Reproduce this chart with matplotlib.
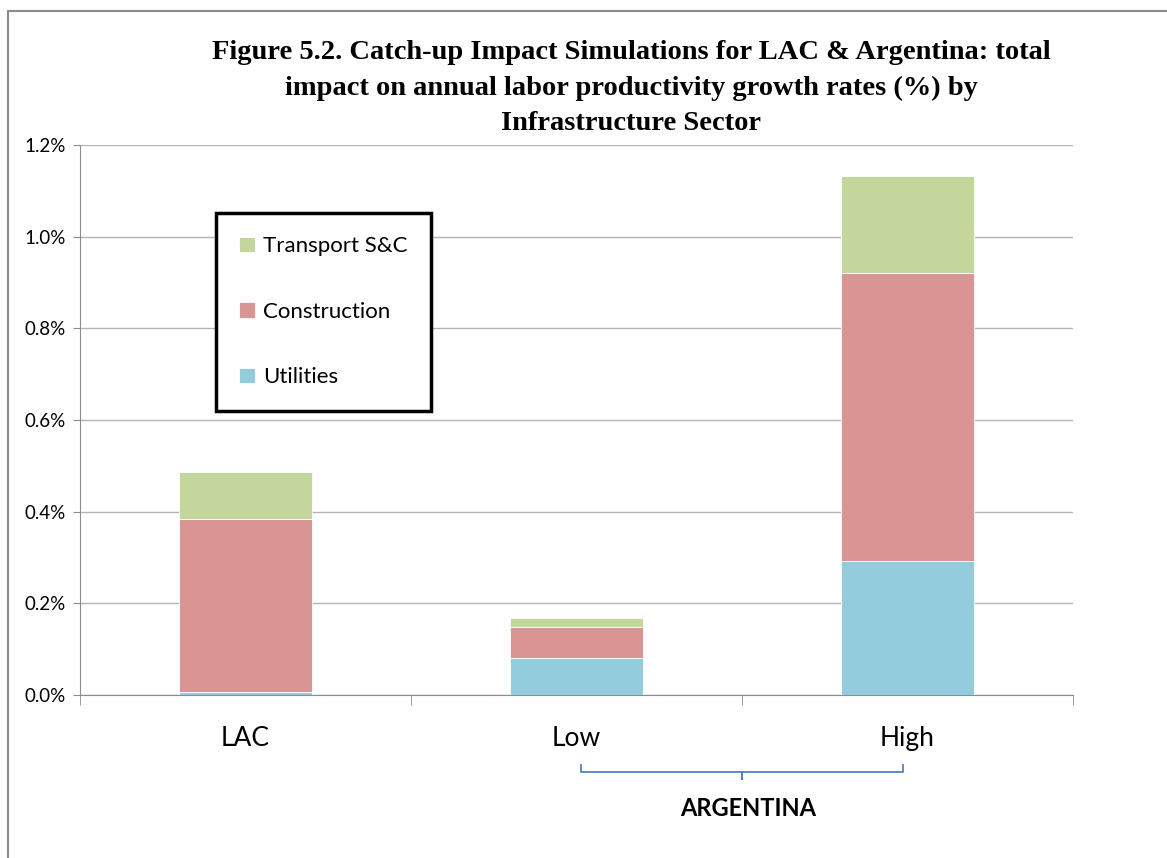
import matplotlib.pyplot as plt
from matplotlib.patches import Rectangle
from matplotlib.ticker import PercentFormatter, FixedLocator
import matplotlib.transforms as mtransforms

categories = ['LAC', 'Low', 'High']
utilities = [0.007, 0.080, 0.292]
construction = [0.377, 0.068, 0.628]
transport = [0.103, 0.020, 0.212]

c_util = '#93cddd'
c_cons = '#d99594'
c_trans = '#c3d69b'

plt.rcParams['font.family'] = ['Lato', 'DejaVu Sans']

fig = plt.figure(figsize=(11.67, 8.58), dpi=100)
ax = fig.add_axes([80 / 1167, 1 - 695 / 858, 993 / 1167, 550 / 858])

x = range(len(categories))
w = 0.4
b1 = ax.bar(x, utilities, w, color=c_util, label='Utilities', zorder=3,
            edgecolor='white', linewidth=0.6)
bottom2 = [u for u in utilities]
b2 = ax.bar(x, construction, w, bottom=bottom2, color=c_cons, label='Construction',
            zorder=3, edgecolor='white', linewidth=0.6)
bottom3 = [u + c for u, c in zip(utilities, construction)]
b3 = ax.bar(x, transport, w, bottom=bottom3, color=c_trans, label='Transport S&C',
            zorder=3, edgecolor='white', linewidth=0.6)

ax.set_xlim(-0.5, 2.5)
ax.set_ylim(0, 1.2)
ax.set_yticks([0, 0.2, 0.4, 0.6, 0.8, 1.0, 1.2])
ax.yaxis.set_major_formatter(PercentFormatter(decimals=1))
ax.grid(axis='y', color='#b3b3b3', linewidth=1, zorder=0)
ax.set_axisbelow(True)

ax.set_xticks(list(x))
ax.set_xticklabels(categories, fontsize=19)
ax.tick_params(axis='x', which='major', length=0, pad=22)
ax.xaxis.set_minor_locator(FixedLocator([-0.5, 0.5, 1.5, 2.5]))
ax.tick_params(axis='x', which='minor', length=7, color='#8c8c8c')
ax.tick_params(axis='y', labelsize=13.5, length=5, color='#8c8c8c', pad=5)

for s in ['top', 'right']:
    ax.spines[s].set_visible(False)
for s in ['left', 'bottom']:
    ax.spines[s].set_color('#8c8c8c')

# legend in reverse order
leg = ax.legend(handles=[b3, b2, b1], loc='upper left',
                bbox_to_anchor=(216 / 1167, 1 - 213 / 858),
                bbox_transform=fig.transFigure, fontsize=16,
                fancybox=False, frameon=True, labelspacing=2.05,
                handlelength=0.7, handleheight=0.7, handletextpad=0.35,
                borderpad=1.05, borderaxespad=0)
leg.get_frame().set_edgecolor('black')
leg.get_frame().set_linewidth(2.5)
leg.get_frame().set_alpha(1)

fig.suptitle('Figure 5.2. Catch-up Impact Simulations for LAC & Argentina: total\n'
             'impact on annual labor productivity growth rates (%) by\n'
             'Infrastructure Sector',
             x=631 / 1167, y=1 - 40 / 858, fontsize=20.5, fontweight='bold',
             family='Liberation Serif', linespacing=1.55, va='top')

# bracket under Low / High
trans = mtransforms.blended_transform_factory(ax.transData, fig.transFigure)
y0 = 1 - 765 / 858
y1 = 1 - 772 / 858
y2 = 1 - 779 / 858
mid = 1.5
bc = '#4f81bd'
ax.plot([1.015, 1.015, mid, mid, mid, 1.985, 1.985], [y0, y1, y1, y2, y1, y1, y0],
        transform=trans, color=bc, lw=1.3, clip_on=False)
fig.text(748 / 1167, 1 - 808 / 858, 'ARGENTINA', ha='center', va='center',
         fontsize=17, fontweight='bold')

# chart area border
fig.add_artist(Rectangle((8 / 1167, -0.1), 1.2, 1 - 11 / 858 + 0.1,
                         transform=fig.transFigure, fill=False,
                         edgecolor='#8c8c8c', linewidth=1.5))

fig.savefig('out.png', dpi=100)
